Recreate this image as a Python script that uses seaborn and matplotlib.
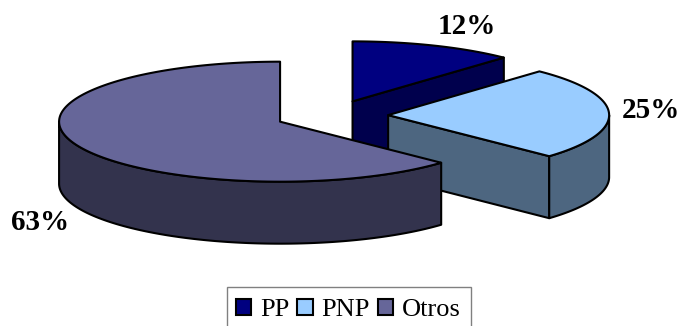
import numpy as np
import matplotlib
matplotlib.use("Agg")
import matplotlib.pyplot as plt
from matplotlib.patches import Patch, Polygon, Rectangle
import seaborn as sns

# Chart data
categories = ["PP", "PNP", "Otros"]
shares = [12, 25, 63]
value_labels = ["12%", "25%", "63%"]

# Face colours for each slice, and the darker shade used on its walls
top_colors = ["#000080", "#99ccff", "#666699"]
wall_colors = ["#00004d", "#4d6680", "#33334d"]

sns.set_theme(style="white")
plt.rcParams["font.family"] = ["Liberation Serif", "DejaVu Serif"]
plt.rcParams["text.color"] = "black"
sns.set_palette(top_colors)
palette = sns.color_palette()

# Projection of the tilted pie, in pixel-like axis units
CENTER_X, CENTER_Y = 331.8, 115.6
RX, RY = 221.0, 60.0
DEPTH = 62.0
EXPLODE = 0.255
EDGE = dict(edgecolor="black", linewidth=1.5, joinstyle="round")


def rim_point(angle):
    """Point on the top ellipse; angle runs clockwise from twelve o'clock."""
    return np.column_stack((RX * np.sin(angle), -RY * np.cos(angle)))


fig = plt.figure(figsize=(6.8, 3.26), dpi=100)
ax = fig.add_axes([0, 0, 1, 1])
ax.set_xlim(0, 680)
ax.set_ylim(326, 0)
ax.axis("off")

fractions = np.asarray(shares, dtype=float) / sum(shares)
stops = np.concatenate(([0.0], np.cumsum(fractions))) * 2 * np.pi

for i in range(len(shares)):
    start, stop = stops[i], stops[i + 1]
    middle = (start + stop) / 2
    apex = np.array([CENTER_X, CENTER_Y]) + EXPLODE * rim_point(np.array([middle]))[0]
    down = np.array([0.0, DEPTH])
    arc = apex + rim_point(np.linspace(start, stop, 160))

    # Cut face at the clockwise end of the slice, visible when it faces forward
    if stop < np.pi:
        wall = np.array([apex, arc[-1], arc[-1] + down, apex + down])
        ax.add_patch(Polygon(wall, facecolor=wall_colors[i], **EDGE))

    # Outer rim on the front half of the ellipse
    lo, hi = max(start, np.pi / 2), min(stop, 3 * np.pi / 2)
    if hi > lo:
        rim = apex + rim_point(np.linspace(lo, hi, 160))
        ax.add_patch(Polygon(np.vstack((rim, (rim + down)[::-1])),
                             facecolor=wall_colors[i], **EDGE))

    ax.add_patch(Polygon(np.vstack((apex, arc)), facecolor=palette[i], **EDGE))

# Percentage labels around the pie
label_xy = [(467, 26), (651, 111), (40, 223)]
for text, (x, y) in zip(value_labels, label_xy):
    ax.text(x, y, text, ha="center", va="center", fontsize=21,
            fontweight="bold", color="black")

# Legend box runs off the bottom edge of the figure
ax.add_patch(Rectangle((227, 287), 244, 50, facecolor="white",
                       edgecolor="#808080", linewidth=1.0))
handles = [Patch(facecolor=c, edgecolor="black", linewidth=1.5, label=n)
           for c, n in zip(palette, categories)]
ax.legend(handles=handles, ncol=3, loc="center",
          bbox_to_anchor=(348.5, 310), bbox_transform=ax.transData,
          fontsize=19, frameon=False, borderaxespad=0, borderpad=0,
          handlelength=0.57, handleheight=0.57, handletextpad=0.34,
          columnspacing=0.3, labelspacing=0, labelcolor="black")

fig.savefig("out.png", dpi=100, facecolor="white")
